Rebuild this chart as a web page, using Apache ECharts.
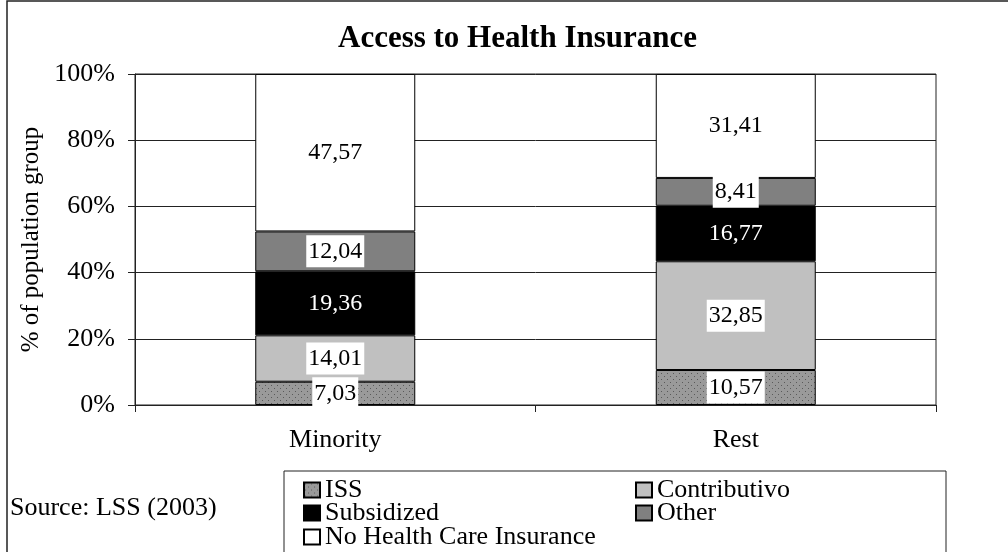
<!DOCTYPE html>
<html>
<head>
<meta charset="utf-8">
<title>Access to Health Insurance</title>
<script src="https://cdn.jsdelivr.net/npm/echarts@6/dist/echarts.min.js"></script>
<style>
  html, body { margin: 0; padding: 0; background: #fff; }
  #chart { width: 1008px; height: 552px; }
</style>
</head>
<body>
<div id="chart"></div>
<script>
// Population groups and the share (%) of each insurance type
const categories = ['Minority', 'Rest'];
const issShare = [7.03, 10.57];
const contributivoShare = [14.01, 32.85];
const subsidizedShare = [19.36, 16.77];
const otherShare = [12.04, 8.41];
const uninsuredShare = [47.57, 31.41];

const FONT = "'Liberation Serif', 'Times New Roman', serif";

// Dotted grey fill used for the ISS segments
function dottedPattern() {
  const c = document.createElement('canvas');
  c.width = 6; c.height = 6;
  const g = c.getContext('2d');
  g.fillStyle = '#9a9a9a';
  g.fillRect(0, 0, 6, 6);
  g.fillStyle = '#5a5a5a';
  g.fillRect(1, 1, 1, 1);
  g.fillRect(4, 4, 1, 1);
  return c;
}

const fmt = v => v.toFixed(2).replace('.', ',');

function makeSeries(name, data, fill, labelColor, labelBg) {
  return {
    name: name,
    type: 'bar',
    stack: 'share',
    barWidth: 160,
    data: data,
    itemStyle: { color: fill, borderColor: '#000', borderWidth: 1 },
    label: {
      show: true,
      position: 'inside',
      formatter: p => fmt(p.value),
      fontFamily: FONT,
      fontSize: 24,
      color: labelColor,
      backgroundColor: labelBg,
      padding: [3, 2],
      lineHeight: 26
    },
    emphasis: { disabled: true }
  };
}

// Each legend entry placed on its own so entries sit in two aligned columns
function legendEntry(name, left, top) {
  return {
    data: [name],
    left: left, top: top,
    itemWidth: 16, itemHeight: 15,
    icon: 'rect',
    selectedMode: false,
    padding: 0,
    textStyle: { fontFamily: FONT, fontSize: 26, color: '#000' }
  };
}

const chart = echarts.init(document.getElementById('chart'));
chart.setOption({
  animation: false,
  backgroundColor: '#fff',
  textStyle: { fontFamily: FONT, color: '#000' },
  title: {
    text: 'Access to Health Insurance',
    left: 333,
    top: 18,
    textStyle: { fontFamily: FONT, fontSize: 31, fontWeight: 'bold', color: '#000' }
  },
  grid: {
    left: 135, right: 72, top: 74, bottom: 147,
    show: true, borderColor: '#222', borderWidth: 1, backgroundColor: 'transparent'
  },
  xAxis: {
    type: 'category',
    data: categories,
    axisLine: { lineStyle: { color: '#222', width: 1 } },
    axisTick: { show: true, length: 7, lineStyle: { color: '#222' } },
    axisLabel: { fontFamily: FONT, fontSize: 26, color: '#000', margin: 22 }
  },
  yAxis: {
    type: 'value',
    min: 0, max: 100, interval: 20,
    name: '% of population group',
    nameLocation: 'middle',
    nameRotate: 90,
    nameGap: 86,
    nameTextStyle: { fontFamily: FONT, fontSize: 25, color: '#000' },
    axisLine: { show: true, lineStyle: { color: '#222', width: 1 } },
    axisTick: { show: true, length: 7, lineStyle: { color: '#222' } },
    axisLabel: { formatter: '{value}%', fontFamily: FONT, fontSize: 26, color: '#000', margin: 20 },
    splitLine: { show: true, lineStyle: { color: '#222', width: 1 } }
  },
  legend: [
    legendEntry('ISS', 303, 477),
    legendEntry('Subsidized', 303, 500),
    legendEntry('No Health Care Insurance', 303, 524),
    legendEntry('Contributivo', 635, 477),
    legendEntry('Other', 635, 500)
  ],
  graphic: [
    {
      type: 'rect',
      shape: { x: 7, y: 1, width: 1010, height: 560 },
      style: { fill: 'none', stroke: '#222', lineWidth: 1.5 },
      silent: true, z: -1
    },
    {
      type: 'rect',
      shape: { x: 284, y: 471, width: 662, height: 90 },
      style: { fill: '#fff', stroke: '#222', lineWidth: 1 },
      silent: true, z: -1
    },
    {
      type: 'text',
      left: 10, top: 495,
      style: { text: 'Source: LSS (2003)', font: "26px 'Liberation Serif', serif", fill: '#000' },
      silent: true
    }
  ],
  series: [
    makeSeries('ISS', issShare, { image: dottedPattern(), repeat: 'repeat' }, '#000', '#fff'),
    makeSeries('Contributivo', contributivoShare, '#c0c0c0', '#000', '#fff'),
    makeSeries('Subsidized', subsidizedShare, '#000', '#fff', 'transparent'),
    makeSeries('Other', otherShare, '#808080', '#000', '#fff'),
    makeSeries('No Health Care Insurance', uninsuredShare, '#fff', '#000', '#fff')
  ]
});
</script>
</body>
</html>
